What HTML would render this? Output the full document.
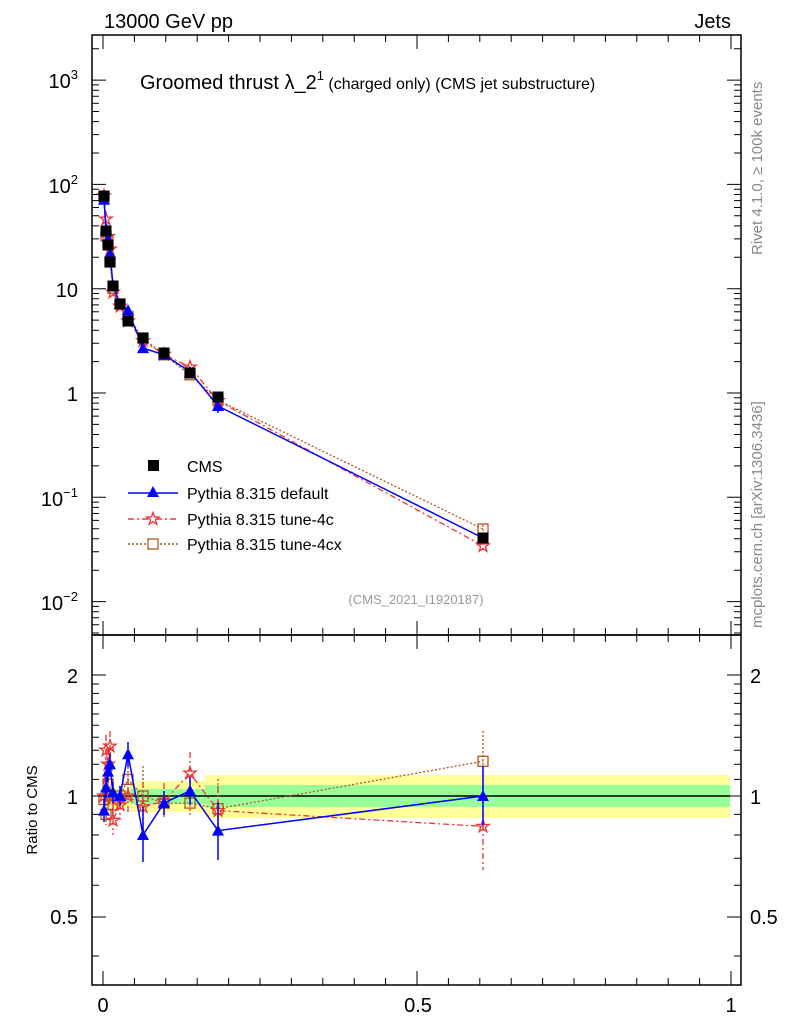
<!DOCTYPE html>
<html><head><meta charset="utf-8"><style>
body{margin:0;background:#fff;}
svg{display:block;font-family:"Liberation Sans",sans-serif;}
</style></head><body>
<svg width="786" height="1024" viewBox="0 0 786 1024" xmlns="http://www.w3.org/2000/svg">
<defs>
<marker id="mt" markerUnits="userSpaceOnUse" viewBox="-7 -7 14 14" markerWidth="14" markerHeight="14" refX="0" refY="0" overflow="visible"><polygon points="0,-6 6,5 -6,5" fill="#00f"/></marker>
<marker id="ms" markerUnits="userSpaceOnUse" viewBox="-7 -7 14 14" markerWidth="14" markerHeight="14" refX="0" refY="0" overflow="visible"><polygon points="0,-6.5 1.5,-2 6.2,-2 2.4,0.8 3.8,5.3 0,2.5 -3.8,5.3 -2.4,0.8 -6.2,-2 -1.5,-2" fill="none" stroke="#e33" stroke-width="1.3"/></marker>
<marker id="mq" markerUnits="userSpaceOnUse" viewBox="-7 -7 14 14" markerWidth="14" markerHeight="14" refX="0" refY="0" overflow="visible"><rect x="-5" y="-5" width="10" height="10" fill="none" stroke="#b5531a" stroke-width="1.3"/></marker>
<marker id="mc" markerUnits="userSpaceOnUse" viewBox="-7 -7 14 14" markerWidth="14" markerHeight="14" refX="0" refY="0" overflow="visible"><rect x="-5.5" y="-5.5" width="11" height="11" fill="#000"/></marker>
</defs>
<rect width="786" height="1024" fill="#fff"/>
<!-- ratio bands -->
<rect x="103" y="788" width="27" height="20" fill="#ffff99"/>
<rect x="130" y="781" width="75" height="31" fill="#ffff99"/>
<rect x="205" y="775" width="525" height="43" fill="#ffff99"/>
<rect x="103" y="792" width="27" height="10" fill="#99ff99"/>
<rect x="130" y="789" width="75" height="15" fill="#99ff99"/>
<rect x="205" y="785" width="525" height="22" fill="#99ff99"/>
<line x1="103" y1="796" x2="730" y2="796" stroke="#000" stroke-width="1.5"/>

<!-- brown tune-4cx -->
<g stroke="#b5531a" stroke-width="1.3" fill="none" stroke-dasharray="2,2">
<polyline points="104,196.9 106,235.8 108,241.9 110,262 113,288.3 120,304 128,316.7 143,338 164,354.8 190,374.8 218,400.3 483,529" marker-start="url(#mq)" marker-mid="url(#mq)" marker-end="url(#mq)"/>
<polyline points="104,799.5 106,814.4 108,784.2 110,796 113,805 120,796 128,779.4 143,796 164,803.1 190,803.1 218,808.7 483,761.3" marker-start="url(#mq)" marker-mid="url(#mq)" marker-end="url(#mq)"/>
<path d="M104 787V812M106 804V825M108 774V794M110 786V806M113 795V815M120 786V806M128 767V792M143 766V826M164 791V815M190 789V817M218 779V839M483 731V791M483 525V533"/>
</g>
<!-- red tune-4c -->
<g stroke="#e33" stroke-width="1.3" fill="none" stroke-dasharray="6,3,2,3">
<polyline points="104,196 106,219.1 108,236.7 110,249.1 113,292.3 120,306.3 128,321 143,340.8 164,354.4 190,367.1 218,400.8 483,545.9" marker-start="url(#ms)" marker-mid="url(#ms)" marker-end="url(#ms)"/>
<polyline points="104,796 106,750.2 108,764.2 110,746.2 113,820.3 120,805 128,796 143,806.8 164,801.3 190,773.1 218,810.6 483,826.4" marker-start="url(#ms)" marker-mid="url(#ms)" marker-end="url(#ms)"/>
<path d="M104 778V814M106 735V765M108 749V779M110 731V761M113 805V835M120 790V820M128 778V814M143 782V832M164 783V819M190 752V794M218 786V835M483 783V870M483 539V553"/>
</g>
<!-- blue default -->
<g stroke="#00f" stroke-width="1.5" fill="none">
<polyline points="104,199.8 106,228.8 108,238.7 110,253.7 113,285.1 120,304 128,310.2 143,348.1 164,354.8 190,371.7 218,406 483,538" marker-start="url(#mt)" marker-mid="url(#mt)" marker-end="url(#mt)"/>
<polyline points="104,810.6 106,787.5 108,771.6 110,764.2 113,792.5 120,796 128,754.3 143,835 164,803.1 190,790.8 218,830.6 483,796" marker-start="url(#mt)" marker-mid="url(#mt)" marker-end="url(#mt)"/>
<path d="M104 799V822M106 777V798M108 761V782M110 754V774M113 782V803M120 786V806M128 742V767M143 807V862M164 791V815M190 777V805M218 802V860M483 766V826M218 399V413M483 533V543"/>
</g>
<!-- CMS -->
<polyline points="104,196 106,231 108,245 110,262 113,286 120,304 128,321 143,338 164,353 190,373 218,397 483,538" fill="none" stroke="none" marker-start="url(#mc)" marker-mid="url(#mc)" marker-end="url(#mc)"/>

<g fill="none" stroke="#000" stroke-width="1.5">
<rect x="92" y="35" width="649" height="600"/>
<rect x="92" y="635" width="649" height="350"/>
</g>
<g stroke="#000" stroke-width="1" fill="none">
<!-- x ticks -->
<path d="M103 35v14M134.4 35v7M165.8 35v7M197.2 35v7M228.6 35v7M260 35v7M291.4 35v7M322.8 35v7M354.2 35v7M385.6 35v7M417 35v14M448.4 35v7M479.8 35v7M511.2 35v7M542.6 35v7M574 35v7M605.4 35v7M636.8 35v7M668.2 35v7M699.6 35v7M731 35v14"/>
<path d="M103 635v-14M134.4 635v-7M165.8 635v-7M197.2 635v-7M228.6 635v-7M260 635v-7M291.4 635v-7M322.8 635v-7M354.2 635v-7M385.6 635v-7M417 635v-14M448.4 635v-7M479.8 635v-7M511.2 635v-7M542.6 635v-7M574 635v-7M605.4 635v-7M636.8 635v-7M668.2 635v-7M699.6 635v-7M731 635v-14"/>
<path d="M103 635v14M134.4 635v7M165.8 635v7M197.2 635v7M228.6 635v7M260 635v7M291.4 635v7M322.8 635v7M354.2 635v7M385.6 635v7M417 635v14M448.4 635v7M479.8 635v7M511.2 635v7M542.6 635v7M574 635v7M605.4 635v7M636.8 635v7M668.2 635v7M699.6 635v7M731 635v14"/>
<path d="M103 985v-14M134.4 985v-7M165.8 985v-7M197.2 985v-7M228.6 985v-7M260 985v-7M291.4 985v-7M322.8 985v-7M354.2 985v-7M385.6 985v-7M417 985v-14M448.4 985v-7M479.8 985v-7M511.2 985v-7M542.6 985v-7M574 985v-7M605.4 985v-7M636.8 985v-7M668.2 985v-7M699.6 985v-7M731 985v-14"/>
<!-- log y ticks left -->
<path d="M92 80.1h14M92 184.4h14M92 288.7h14M92 393h14M92 497.3h14M92 601.6h14
M92 48.7h7M92 153h7M92 134.6h7M92 121.6h7M92 111.5h7M92 103.2h7M92 96.3h7M92 90.2h7M92 84.9h7
M92 257.3h7M92 238.9h7M92 225.9h7M92 215.8h7M92 207.5h7M92 200.6h7M92 194.5h7M92 189.2h7
M92 361.6h7M92 343.2h7M92 330.2h7M92 320.1h7M92 311.8h7M92 304.9h7M92 298.8h7M92 293.5h7
M92 465.9h7M92 447.5h7M92 434.5h7M92 424.4h7M92 416.1h7M92 409.2h7M92 403.1h7M92 397.8h7
M92 570.2h7M92 551.8h7M92 538.8h7M92 528.7h7M92 520.4h7M92 513.5h7M92 507.4h7M92 502.1h7
M92 633h7M92 624.7h7M92 617.8h7M92 611.7h7M92 606.4h7"/>
<path d="M741 80.1h-14M741 184.4h-14M741 288.7h-14M741 393h-14M741 497.3h-14M741 601.6h-14
M741 48.7h-7M741 153h-7M741 134.6h-7M741 121.6h-7M741 111.5h-7M741 103.2h-7M741 96.3h-7M741 90.2h-7M741 84.9h-7
M741 257.3h-7M741 238.9h-7M741 225.9h-7M741 215.8h-7M741 207.5h-7M741 200.6h-7M741 194.5h-7M741 189.2h-7
M741 361.6h-7M741 343.2h-7M741 330.2h-7M741 320.1h-7M741 311.8h-7M741 304.9h-7M741 298.8h-7M741 293.5h-7
M741 465.9h-7M741 447.5h-7M741 434.5h-7M741 424.4h-7M741 416.1h-7M741 409.2h-7M741 403.1h-7M741 397.8h-7
M741 570.2h-7M741 551.8h-7M741 538.8h-7M741 528.7h-7M741 520.4h-7M741 513.5h-7M741 507.4h-7M741 502.1h-7
M741 633h-7M741 624.7h-7M741 617.8h-7M741 611.7h-7M741 606.4h-7"/>
<!-- ratio ticks -->
<path d="M92 675h14M92 796h14M92 917h14M92 956h7M92 885.2h7M92 858.3h7M92 835h7M92 814.4h7M92 779.4h7M92 764.2h7M92 750.2h7M92 737.3h7M92 725.2h7M92 714h7M92 703.4h7M92 693.4h7M92 684h7"/>
<path d="M741 675h-14M741 796h-14M741 917h-14M741 956h-7M741 885.2h-7M741 858.3h-7M741 835h-7M741 814.4h-7M741 779.4h-7M741 764.2h-7M741 750.2h-7M741 737.3h-7M741 725.2h-7M741 714h-7M741 703.4h-7M741 693.4h-7M741 684h-7"/>
</g>

<g font-size="20" fill="#000">
<text x="104" y="28">13000 GeV pp</text>
<text x="731" y="28" text-anchor="end">Jets</text>
<text x="140" y="89">Groomed thrust λ_2<tspan font-size="13" dy="-9">1</tspan><tspan font-size="16" dy="9"> (charged only) (CMS jet substructure)</tspan></text>
</g>
<g font-size="20" text-anchor="end">
<text x="78" y="88">10<tspan font-size="13" dy="-9">3</tspan></text>
<text x="78" y="193">10<tspan font-size="13" dy="-9">2</tspan></text>
<text x="78" y="297">10</text>
<text x="78" y="401">1</text>
<text x="78" y="506">10<tspan font-size="13" dy="-9">−1</tspan></text>
<text x="78" y="610">10<tspan font-size="13" dy="-9">−2</tspan></text>
<text x="78" y="683">2</text>
<text x="78" y="804">1</text>
<text x="78" y="924">0.5</text>
</g>
<g font-size="20">
<text x="750" y="683">2</text>
<text x="750" y="804">1</text>
<text x="750" y="924">0.5</text>
<text x="103" y="1012" text-anchor="middle">0</text>
<text x="418" y="1012" text-anchor="middle">0.5</text>
<text x="731" y="1012" text-anchor="middle">1</text>
</g>
<text x="37" y="810" font-size="15" text-anchor="middle" transform="rotate(-90 37 810)">Ratio to CMS</text>
<text x="416" y="604" font-size="13" fill="#999" text-anchor="middle">(CMS_2021_I1920187)</text>
<g font-size="15" fill="#888">
<text transform="translate(762 255) rotate(-90)">Rivet 4.1.0, ≥ 100k events</text>
<text transform="translate(762 628) rotate(-90)">mcplots.cern.ch [arXiv:1306.3436]</text>
</g>
<!-- legend -->
<g font-size="16">
<rect x="148" y="460" width="11" height="11" fill="#000"/>
<text x="187" y="472">CMS</text>
<line x1="128" y1="493" x2="178" y2="493" stroke="#00f" stroke-width="1.5"/>
<polygon points="153,486 159,497 147,497" fill="#00f"/>
<text x="187" y="499">Pythia 8.315 default</text>
<line x1="128" y1="519" x2="178" y2="519" stroke="#e33" stroke-width="1.5" stroke-dasharray="6,3,2,3"/>
<polygon transform="translate(153 519)" points="0,-6.5 1.5,-2 6.2,-2 2.4,0.8 3.8,5.3 0,2.5 -3.8,5.3 -2.4,0.8 -6.2,-2 -1.5,-2" fill="#fff" stroke="#e33" stroke-width="1.3"/>
<text x="187" y="525">Pythia 8.315 tune-4c</text>
<line x1="128" y1="544" x2="178" y2="544" stroke="#b5531a" stroke-width="1.5" stroke-dasharray="2,2"/>
<rect x="148" y="539" width="10" height="10" fill="#fff" stroke="#b5531a" stroke-width="1.3"/>
<text x="187" y="550">Pythia 8.315 tune-4cx</text>
</g>
</svg>
</body></html>
